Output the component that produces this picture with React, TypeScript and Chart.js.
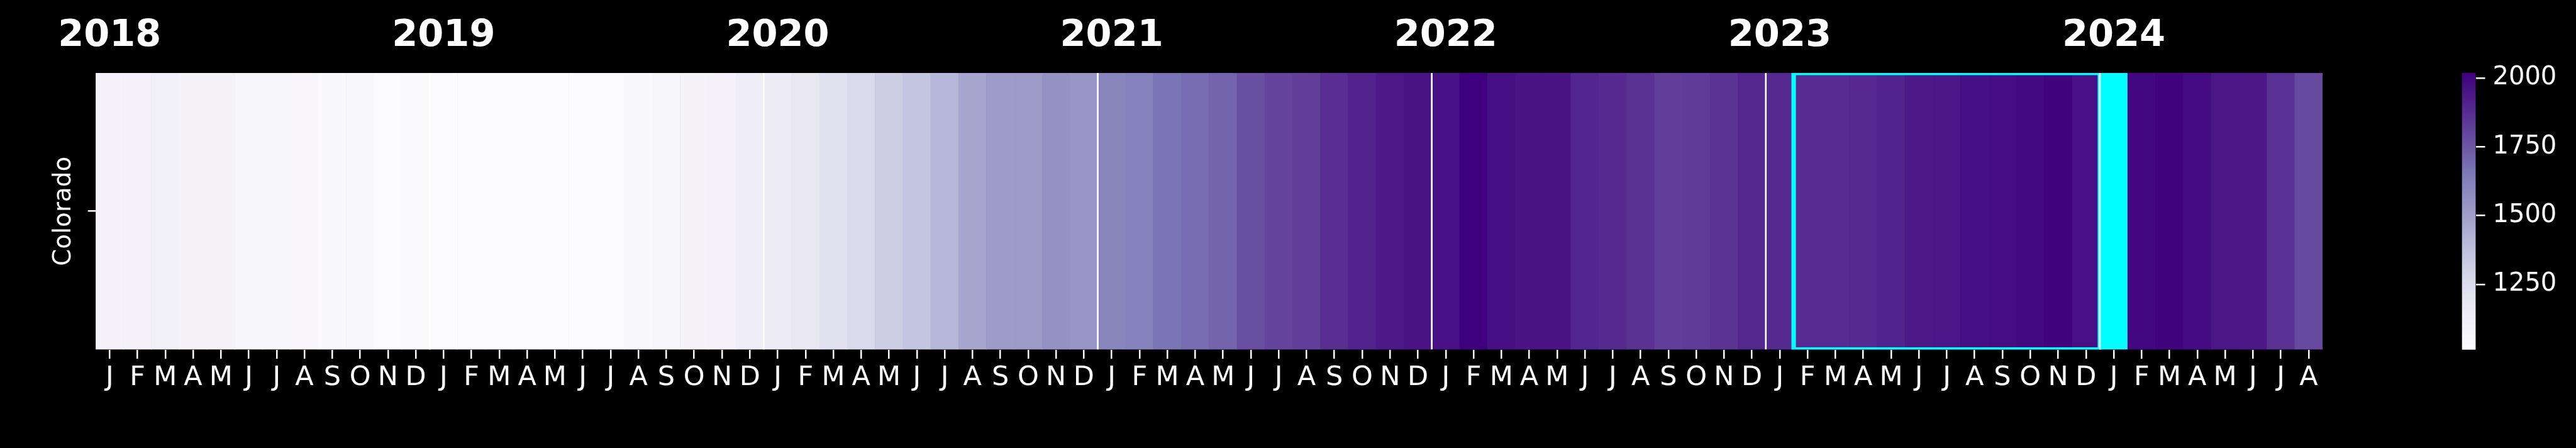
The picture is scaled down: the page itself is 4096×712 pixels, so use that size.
import React, { useEffect, useRef } from 'react';
import { Chart, registerables } from 'chart.js';

Chart.register(...registerables);

// ---------------- data ----------------
const years = ['2018', '2019', '2020', '2021', '2022', '2023', '2024'];
const monthInitials = ['J', 'F', 'M', 'A', 'M', 'J', 'J', 'A', 'S', 'O', 'N', 'D'];
const rowLabel = 'Colorado';

const values2018 = [1093, 1090, 1111, 1084, 1083, 1057, 1056, 1055, 1039, 1038, 1021, 1030];
const values2019 = [1018, 1013, 1012, 1013, 1014, 1018, 1019, 1039, 1066, 1084, 1093, 1138];
const values2020 = [1151, 1177, 1217, 1263, 1320, 1354, 1411, 1472, 1511, 1515, 1550, 1541];
const values2021 = [1602, 1624, 1667, 1686, 1712, 1773, 1809, 1824, 1871, 1905, 1937, 1957];
const values2022 = [1963, 2018, 1970, 1954, 1953, 1898, 1883, 1859, 1824, 1829, 1853, 1892];
const values2023 = [1886, 1876, 1876, 1883, 1902, 1937, 1947, 1970, 1976, 1986, 2008, 1967];
const values2024: (number | null)[] = [null, 1996, 2008, 1983, 1944, 1941, 1865, 1788];

const highlightMonth = '2024-01';
const boxStart = '2023-02';
const boxEnd = '2023-12';
const colorbarTicks = [1250, 1500, 1750, 2000];

// ---------------- derived ----------------
const yearValues: (number | null)[][] = [values2018, values2019, values2020, values2021, values2022, values2023, values2024];
const monthKeys: string[] = [];
const values: (number | null)[] = [];
yearValues.forEach((arr, yi) => {
  arr.forEach((v, mi) => {
    monthKeys.push(`${years[yi]}-${String(mi + 1).padStart(2, '0')}`);
    values.push(v);
  });
});
const numeric = values.filter((v): v is number => v != null);
const vmin = Math.min(...numeric);
const vmax = Math.max(...numeric);

const PURPLES = [
  [252, 251, 253], [239, 237, 245], [218, 218, 235], [188, 189, 220], [158, 154, 200],
  [128, 125, 186], [106, 81, 163], [84, 39, 143], [63, 0, 125],
];
function purples(t: number): string {
  const tt = Math.max(0, Math.min(1, t));
  const s = tt * 8;
  const i = Math.min(7, Math.floor(s));
  const f = s - i;
  const a = PURPLES[i];
  const b = PURPLES[i + 1];
  const c = a.map((av, k) => Math.round(av + (b[k] - av) * f));
  return `rgb(${c[0]},${c[1]},${c[2]})`;
}
const cellColors = values.map((v, i) =>
  monthKeys[i] === highlightMonth || v == null ? '#00ffff' : purples((v - vmin) / (vmax - vmin))
);

const FONT = "'DejaVu Sans'";

const overlayPlugin = {
  id: 'overlay',
  afterDatasetsDraw(chart: any) {
    const { ctx, chartArea: ca, scales } = chart;
    const x = scales.x;
    const w = x.getPixelForValue(1) - x.getPixelForValue(0);
    const edge = (i: number) => x.getPixelForValue(i) - w / 2;
    ctx.save();
    ctx.beginPath();
    ctx.rect(ca.left, ca.top, ca.right - ca.left, ca.bottom - ca.top);
    ctx.clip();
    const i0 = monthKeys.indexOf(boxStart);
    const i1 = monthKeys.indexOf(boxEnd) + 1;
    ctx.strokeStyle = '#00ffff';
    ctx.lineWidth = 7.1;
    ctx.strokeRect(edge(i0), ca.top, edge(i1) - edge(i0), ca.bottom - ca.top);
    ctx.strokeStyle = '#ffffff';
    ctx.lineWidth = 2.7;
    years.forEach((_, yi) => {
      if (yi === 0) return;
      const xx = edge(yi * 12);
      ctx.beginPath();
      ctx.moveTo(xx, ca.top);
      ctx.lineTo(xx, ca.bottom);
      ctx.stroke();
    });
    ctx.restore();
    ctx.save();
    ctx.fillStyle = '#ffffff';
    ctx.font = `bold 59px ${FONT}`;
    ctx.textAlign = 'center';
    ctx.textBaseline = 'alphabetic';
    years.forEach((y, yi) => {
      ctx.fillText(y, x.getPixelForValue(yi * 12), 73);
    });
    ctx.restore();
  },
};

export default function App() {
  const mainRef = useRef<HTMLCanvasElement>(null);
  const cbRef = useRef<HTMLCanvasElement>(null);

  useEffect(() => {
    Chart.defaults.font.family = FONT;
    const main = new Chart(mainRef.current as HTMLCanvasElement, {
      type: 'bar',
      data: {
        labels: monthKeys,
        datasets: [
          {
            data: values.map(() => 1),
            backgroundColor: cellColors,
            borderWidth: 0,
            barPercentage: 1,
            categoryPercentage: 1,
          },
        ],
      },
      options: {
        responsive: false,
        animation: false,
        events: [],
        layout: { padding: { left: 0, top: 115.9, right: 403, bottom: 0 } },
        plugins: { legend: { display: false }, tooltip: { enabled: false } },
        scales: {
          x: {
            type: 'category',
            offset: true,
            grid: {
              offset: false,
              drawOnChartArea: false,
              drawTicks: true,
              tickLength: 14.7,
              tickWidth: 2.5,
              tickColor: '#ffffff',
              color: '#ffffff',
              lineWidth: 2.5,
            },
            border: { display: false },
            ticks: {
              autoSkip: false,
              maxRotation: 0,
              minRotation: 0,
              color: '#ffffff',
              font: { size: 43, family: FONT },
              padding: 5.3,
              callback: (_v: any, i: number) => monthInitials[i % 12],
            },
            afterFit: (s: any) => {
              s.height = 156.5;
            },
          },
          y: {
            type: 'linear',
            min: 0,
            max: 1,
            afterBuildTicks: (s: any) => {
              s.ticks = [{ value: 0.5 }];
            },
            grid: {
              drawOnChartArea: false,
              drawTicks: true,
              tickLength: 12.4,
              tickWidth: 2.5,
              tickColor: '#ffffff',
              color: '#ffffff',
              lineWidth: 2.5,
            },
            border: { display: false },
            ticks: { display: false },
            title: {
              display: true,
              text: rowLabel,
              color: '#ffffff',
              font: { size: 39, family: FONT },
              padding: { top: 78.6, bottom: 0 },
            },
            afterFit: (s: any) => {
              s.width = 152.1;
            },
          },
        },
      },
      plugins: [overlayPlugin],
    } as any);

    const cb = new Chart(cbRef.current as HTMLCanvasElement, {
      type: 'bar',
      data: {
        labels: ['colorbar'],
        datasets: [
          {
            data: [[vmin, vmax]],
            backgroundColor: (c: any) => {
              const ca = c.chart.chartArea;
              if (!ca) return '#000';
              const g = c.chart.ctx.createLinearGradient(0, ca.bottom, 0, ca.top);
              PURPLES.forEach((rgb, i) => g.addColorStop(i / 8, `rgb(${rgb[0]},${rgb[1]},${rgb[2]})`));
              return g;
            },
            borderWidth: 0,
            barPercentage: 1,
            categoryPercentage: 1,
          },
        ],
      },
      options: {
        responsive: false,
        animation: false,
        events: [],
        layout: { padding: { left: 34.6, top: 116.1, bottom: 156.2, right: 0 } },
        plugins: { legend: { display: false }, tooltip: { enabled: false } },
        scales: {
          x: { display: false, offset: true },
          y: {
            position: 'right',
            min: vmin,
            max: vmax,
            afterBuildTicks: (s: any) => {
              s.ticks = colorbarTicks.map((v) => ({ value: v }));
            },
            grid: {
              drawOnChartArea: false,
              drawTicks: true,
              tickLength: 15,
              tickWidth: 2.5,
              tickColor: '#ffffff',
              color: '#ffffff',
              lineWidth: 2.5,
            },
            border: { display: false },
            ticks: {
              color: '#ffffff',
              font: { size: 40, family: FONT },
              padding: 12,
              callback: (v: any) => String(v),
            },
            afterFit: (s: any) => {
              s.width = 159.5;
            },
          },
        },
      },
    } as any);

    return () => {
      main.destroy();
      cb.destroy();
    };
  }, []);

  return (
    <div style={{ position: 'fixed', left: 0, top: 0, width: 4096, height: 712, background: '#000', overflow: 'hidden' }}>
      <canvas
        ref={mainRef}
        width={4096}
        height={712}
        style={{ position: 'absolute', left: 0, top: 0, width: 4096, height: 712 }}
      />
      <canvas
        ref={cbRef}
        width={216}
        height={712}
        style={{ position: 'absolute', left: 3880, top: 0, width: 216, height: 712 }}
      />
    </div>
  );
}
